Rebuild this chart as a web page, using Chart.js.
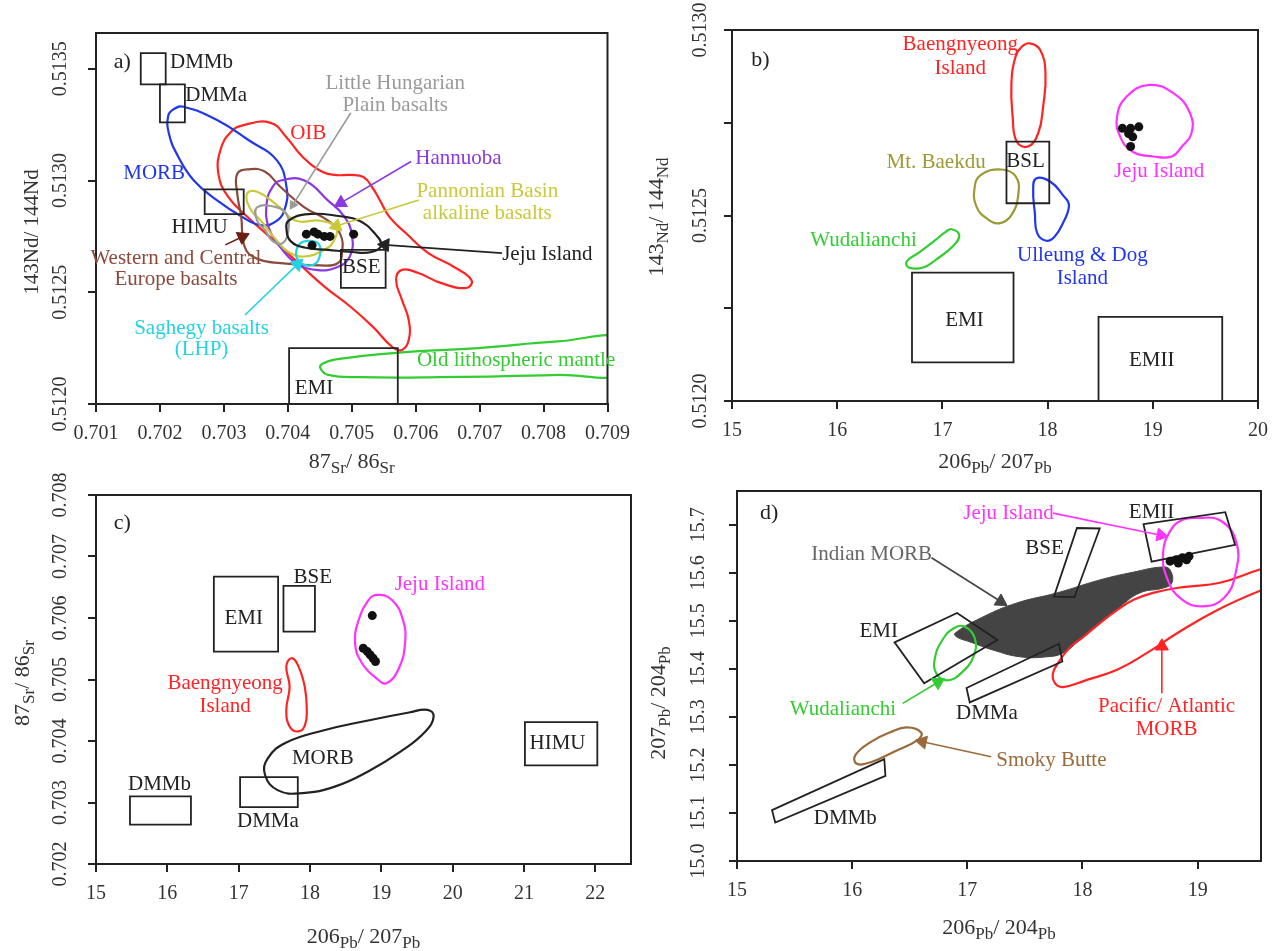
<!DOCTYPE html>
<html>
<head>
<meta charset="UTF-8">
<title>Sr-Nd-Pb isotope diagrams</title>
<script src="https://cdn.jsdelivr.net/npm/chart.js"></script>
<style>
  body { margin: 0; background: #fff; }
  canvas { position: absolute; }
</style>
</head>
<body>
<canvas id="cA" width="640" height="482" style="left:0;top:0"></canvas>
<canvas id="cB" width="647" height="482" style="left:640px;top:0"></canvas>
<canvas id="cC" width="640" height="481" style="left:0;top:470px"></canvas>
<canvas id="cD" width="647" height="481" style="left:640px;top:470px"></canvas>
<script>
// ---------- a) 87Sr/86Sr vs 143Nd/144Nd ----------
const aBoxDMMb = [0.70170, 0.51343, 0.70209, 0.51357];
const aBoxDMMa = [0.70200, 0.51326, 0.70239, 0.51343];
const aBoxHIMU = [0.70270, 0.51285, 0.70331, 0.51296];
const aBoxBSE  = [0.70483, 0.51252, 0.70553, 0.51269];
const aBoxEMI  = [0.70402, 0.51200, 0.70572, 0.51225];
const aOIB = [[0.703370,0.512837],[0.703068,0.512927],[0.702917,0.513025],[0.702947,0.513137],[0.703113,0.513218],[0.703325,0.513249],[0.703732,0.513258],[0.703974,0.513195],[0.704230,0.513106],[0.704487,0.513047],[0.704728,0.513025],[0.704985,0.513025],[0.705181,0.513016],[0.705317,0.512971],[0.705438,0.512913],[0.705589,0.512837],[0.705845,0.512765],[0.706192,0.512676],[0.706600,0.512613],[0.706872,0.512555],[0.706796,0.512519],[0.706389,0.512542],[0.706042,0.512586],[0.705785,0.512600],[0.705694,0.512555],[0.705785,0.512466],[0.705891,0.512376],[0.705891,0.512286],[0.705785,0.512242],[0.705634,0.512255],[0.705332,0.512345],[0.704985,0.512434],[0.704577,0.512524],[0.704230,0.512613],[0.703823,0.512721]];
const aMORB = [[0.70237,0.51333],[0.70290,0.51327],[0.70339,0.51318],[0.70383,0.51309],[0.70398,0.51297],[0.70396,0.51288],[0.70383,0.51282],[0.70358,0.51280],[0.70327,0.51284],[0.70290,0.51291],[0.70253,0.51300],[0.70228,0.51311],[0.70214,0.51321],[0.70213,0.51329],[0.70222,0.51332]];
const aHannuoba = [[0.70389,0.51300],[0.70426,0.51300],[0.70463,0.51291],[0.70488,0.51284],[0.70500,0.51276],[0.70497,0.51266],[0.70475,0.51261],[0.70444,0.51260],[0.70413,0.51263],[0.70389,0.51270],[0.70370,0.51279],[0.70367,0.51290],[0.70376,0.51297]];
const aWCEurope = [[0.70321,0.51303],[0.70339,0.51305],[0.70364,0.51304],[0.70389,0.51297],[0.70426,0.51288],[0.70463,0.51282],[0.70482,0.51276],[0.70485,0.51268],[0.70478,0.51263],[0.70451,0.51262],[0.70389,0.51263],[0.70352,0.51265],[0.70333,0.51270],[0.70327,0.51284],[0.70321,0.51294]];
const aPannonian = [[0.70336,0.51294],[0.70352,0.51295],[0.70383,0.51289],[0.70413,0.51282],[0.70451,0.51282],[0.70475,0.51279],[0.70472,0.51273],[0.70457,0.51269],[0.70426,0.51266],[0.70401,0.51268],[0.70383,0.51273],[0.70358,0.51282],[0.70342,0.51287]];
const aLHP = [[0.70352,0.51288],[0.70383,0.51288],[0.70398,0.51285],[0.70401,0.51278],[0.70392,0.51272],[0.70376,0.51273],[0.70364,0.51278],[0.70352,0.51282]];
const aJeju = [[0.70401,0.51282],[0.70432,0.51285],[0.70482,0.51284],[0.70512,0.51282],[0.70537,0.51276],[0.70546,0.51271],[0.70531,0.51268],[0.70500,0.51268],[0.70463,0.51269],[0.70426,0.51270],[0.70404,0.51273],[0.70398,0.51278]];
const aSaghegy = [[0.70432,0.51273],[0.70447,0.51272],[0.70451,0.51268],[0.70444,0.51263],[0.70429,0.51262],[0.70417,0.51264],[0.70413,0.51268],[0.70420,0.51272]];
const aOldMantle = [[0.70454,0.51218],[0.70475,0.51220],[0.70574,0.51223],[0.70698,0.51225],[0.70822,0.51228],[0.70930,0.51229],[0.70930,0.51214],[0.70822,0.51213],[0.70636,0.51212],[0.70512,0.51212],[0.70463,0.51213],[0.70451,0.51216]];
const aSamples = [[0.70429,0.51276],[0.70441,0.51277],[0.70447,0.51276],[0.70457,0.51275],[0.70466,0.51275],[0.70438,0.51271],[0.70503,0.51276]];

// ---------- b) 206Pb/207Pb vs 143Nd/144Nd ----------
const bBoxBSL  = [17.609, 0.512533, 18.016, 0.512699];
const bBoxEMI  = [16.711, 0.512104, 17.676, 0.512346];
const bBoxEMII = [18.484, 0.512000, 19.660, 0.512227];
const bBaengnyeong = [[17.832,0.512964],[17.930,0.512946],[17.980,0.512883],[17.957,0.512793],[17.910,0.512721],[17.813,0.512686],[17.707,0.512699],[17.668,0.512766],[17.656,0.512856],[17.695,0.512928],[17.754,0.512955]];
const bJeju = [[18.965,0.512852],[19.199,0.512829],[19.355,0.512775],[19.367,0.512721],[19.277,0.512686],[19.180,0.512659],[19.004,0.512659],[18.809,0.512672],[18.691,0.512712],[18.660,0.512766],[18.750,0.512820]];
const bBaekdu = [[17.363,0.512609],[17.559,0.512624],[17.695,0.512606],[17.723,0.512560],[17.656,0.512501],[17.539,0.512479],[17.422,0.512492],[17.324,0.512524],[17.305,0.512573]];
const bUlleung = [[17.891,0.512600],[18.027,0.512591],[18.145,0.512555],[18.203,0.512528],[18.145,0.512479],[18.066,0.512443],[17.988,0.512432],[17.902,0.512452],[17.879,0.512506],[17.863,0.512569]];
const bWudalianchi = [[17.090,0.512463],[17.160,0.512447],[17.109,0.512420],[16.934,0.512380],[16.816,0.512360],[16.680,0.512360],[16.660,0.512376],[16.777,0.512400],[16.934,0.512434],[17.031,0.512456]];
const bSamples = [[18.711,0.512735],[18.789,0.512735],[18.867,0.512739],[18.770,0.512721],[18.809,0.512712],[18.789,0.512686]];

// ---------- c) 206Pb/207Pb vs 87Sr/86Sr ----------
const cBoxEMI  = [16.652, 0.705454, 17.553, 0.706672];
const cBoxBSE  = [17.628, 0.705779, 18.069, 0.706521];
const cBoxHIMU = [21.013, 0.703603, 22.028, 0.704306];
const cBoxDMMb = [15.476, 0.702639, 16.331, 0.703099];
const cBoxDMMa = [17.020, 0.702926, 17.829, 0.703413];
const cJeju = [[18.930,0.706375],[19.148,0.706293],[19.303,0.705969],[19.332,0.705590],[19.246,0.705184],[19.073,0.704940],[18.930,0.705021],[18.729,0.705265],[18.632,0.705590],[18.689,0.705996],[18.804,0.706266]];
const cBaengnyeong = [[17.737,0.705346],[17.829,0.705238],[17.926,0.704886],[17.955,0.704507],[17.926,0.704247],[17.829,0.704155],[17.714,0.704236],[17.668,0.704507],[17.714,0.704886],[17.668,0.705211]];
const cMORB = [[19.647,0.704507],[19.733,0.704398],[19.618,0.704155],[19.274,0.703830],[18.815,0.703505],[18.356,0.703262],[17.897,0.703153],[17.553,0.703197],[17.369,0.703451],[17.410,0.703722],[17.668,0.703976],[18.184,0.704171],[18.815,0.704334],[19.389,0.704463]];
const cSamples = [[18.873,0.706039],[18.747,0.705508],[18.804,0.705454],[18.844,0.705400],[18.884,0.705346],[18.918,0.705292]];

// ---------- d) 206Pb/204Pb vs 207Pb/204Pb ----------
const dEMII = [[18.530,15.701],[19.240,15.726],[19.325,15.658],[18.600,15.623]];
const dBSE  = [[17.952,15.693],[18.150,15.692],[17.930,15.549],[17.752,15.550]];
const dEMI  = [[16.368,15.455],[16.911,15.516],[17.261,15.460],[16.625,15.370]];
const dDMMa = [[16.993,15.360],[17.796,15.452],[17.825,15.415],[17.021,15.330]];
const dDMMb = [[15.304,15.106],[16.279,15.212],[16.289,15.177],[15.332,15.080]];
const dIndianMORB = [[16.893,15.474],[17.136,15.508],[17.431,15.537],[17.779,15.558],[18.152,15.585],[18.439,15.601],[18.699,15.612],[18.760,15.606],[18.777,15.579],[18.699,15.568],[18.499,15.558],[18.326,15.529],[18.152,15.495],[17.978,15.460],[17.831,15.433],[17.692,15.425],[17.457,15.425],[17.223,15.439],[17.023,15.456],[16.910,15.466]];
const dPacificMORB = [[19.650,15.610],[19.559,15.608],[19.194,15.579],[18.873,15.570],[18.612,15.558],[18.439,15.543],[18.300,15.522],[18.152,15.495],[18.005,15.466],[17.892,15.445],[17.805,15.418],[17.744,15.391],[17.761,15.370],[17.831,15.362],[18.039,15.377],[18.300,15.398],[18.560,15.433],[18.821,15.474],[19.168,15.522],[19.559,15.564],[19.650,15.568]];
const dWudalianchi = [[16.975,15.488],[17.064,15.464],[17.054,15.426],[16.946,15.391],[16.825,15.376],[16.732,15.390],[16.718,15.422],[16.789,15.462],[16.886,15.485]];
const dSmokyButte = [[16.475,15.278],[16.600,15.267],[16.564,15.251],[16.368,15.228],[16.154,15.205],[16.036,15.203],[16.029,15.221],[16.171,15.249],[16.332,15.268]];
const dJeju = [[19.000,15.714],[19.200,15.708],[19.335,15.664],[19.330,15.600],[19.230,15.548],[19.040,15.530],[18.860,15.545],[18.740,15.585],[18.700,15.641],[18.765,15.688],[18.870,15.710]];
const dSamples = [[18.761,15.624],[18.814,15.627],[18.868,15.631],[18.925,15.634],[18.832,15.620],[18.904,15.627]];

const FONT = '"Liberation Serif", "DejaVu Serif", serif';
Chart.defaults.font.family = FONT;
Chart.defaults.color = '#333';

const RED = '#ff2424', BLUE = '#2236ea', PURPLE = '#8a38e0', YELLOW = '#c9c93a', BROWN = '#8b4a3c',
      CYAN = '#26d2e2', GRAY = '#9a9a9a', GREEN = '#33cc33', MAGENTA = '#ff33ff', OLIVE = '#9c9a34',
      TAN = '#9b6a3a', INK = '#222';

const xy = a => a.map(p => ({ x: p[0], y: p[1] }));

function curve(pts, color) {
  return { data: xy(pts), showLine: true, closed: true, borderColor: color, borderWidth: 2.2,
           pointRadius: 0, tension: 0.45, fill: false };
}
function openCurve(pts, color) {
  return { data: xy(pts), showLine: true, borderColor: color, borderWidth: 2.2,
           pointRadius: 0, tension: 0.45, fill: false };
}
function box(b) {
  return quad([[b[0], b[1]], [b[2], b[1]], [b[2], b[3]], [b[0], b[3]]]);
}
function quad(pts) {
  return { data: xy(pts), showLine: true, closed: true, borderColor: INK, borderWidth: 1.8,
           pointRadius: 0, tension: 0, fill: false };
}
function dots(pts) {
  return { data: xy(pts), showLine: false, pointRadius: 4.5, pointBackgroundColor: '#111',
           pointBorderColor: '#111', pointBorderWidth: 0 };
}
function arrow(a, b, color, head) {
  return {
    data: xy([a, b]), showLine: true, borderColor: color, borderWidth: 1.6, tension: 0, fill: false,
    pointStyle: 'triangle', pointRadius: [0, head || 7.5],
    pointBackgroundColor: color, pointBorderColor: color, pointBorderWidth: 1,
    pointRotation: c => {
      const s = c.chart.scales;
      const dx = s.x.getPixelForValue(b[0]) - s.x.getPixelForValue(a[0]);
      const dy = s.y.getPixelForValue(b[1]) - s.y.getPixelForValue(a[1]);
      return Math.atan2(dx, -dy) * 180 / Math.PI;
    }
  };
}

function axis(min, max, step, dec, size, showLabels) {
  return {
    type: 'linear', min: min, max: max,
    ticks: { display: showLabels, font: { size: 20 }, color: '#333', padding: 10,
             maxRotation: 0, autoSkip: false, callback: v => v.toFixed(dec) },
    afterBuildTicks: s => {
      const out = [];
      for (let k = Math.ceil(min / step - 1e-6); k <= Math.floor(max / step + 1e-6); k++) {
        out.push({ value: +(k * step).toFixed(8) });
      }
      s.ticks = out;
    },
    afterFit: s => { if (s.isHorizontal()) s.height = size; else s.width = size; },
    grid: { drawOnChartArea: false, tickLength: 8, color: INK, lineWidth: 2 },
    border: { color: INK, width: 2 }
  };
}

// per-panel annotation: texts, axis titles, y tick labels (rotated)
const DECOR = {
  cA: {
    yDec: 4, yLabelStep: 0.0005, yTickX: 61,
    xTitle: '87|Sr|/ 86|Sr', xTitleY: 461, yTitle: '143Nd/ 144Nd', yTitleX: 31, yTitleY: 232,
    labels: [
      ['a)', 0.70141, 0.51353, INK, 22], ['DMMb', 0.70265, 0.51353], ['DMMa', 0.70288, 0.51338],
      ['HIMU', 0.70262, 0.51279], ['BSE', 0.70515, 0.51261], ['EMI', 0.70441, 0.51207],
      ['OIB', 0.70432, 0.51321, RED], ['MORB', 0.70191, 0.51303, BLUE],
      ['Little Hungarian', 0.70568, 0.513436, GRAY], ['Plain basalts', 0.70568, 0.513334, GRAY],
      ['Hannuoba', 0.70667, 0.51310, PURPLE],
      ['Pannonian Basin', 0.70712, 0.512951, YELLOW], ['alkaline basalts', 0.70712, 0.512854, YELLOW],
      ['Jeju Island', 0.70806, 0.512667],
      ['Western and Central', 0.70225, 0.512652, BROWN], ['Europe basalts', 0.70225, 0.512555, BROWN],
      ['Saghegy basalts', 0.70265, 0.512339, CYAN], ['(LHP)', 0.70265, 0.512242, CYAN],
      ['Old lithospheric mantle', 0.70757, 0.512194, GREEN]
    ]
  },
  cB: {
    yDec: 4, yLabelStep: 0.0005, yTickX: 61,
    xTitle: '206|Pb|/ 207|Pb', xTitleY: 461, yTitle: '143|Nd|/ 144|Nd', yTitleX: 16, yTitleY: 217,
    labels: [
      ['b)', 15.27, 0.512919, INK, 22],
      ['Baengnyeong', 17.17, 0.512960, RED], ['Island', 17.17, 0.512897, RED],
      ['BSL', 17.79, 0.512645], ['Mt. Baekdu', 16.94, 0.512642, OLIVE],
      ['Jeju Island', 19.06, 0.512618, MAGENTA], ['Wudalianchi', 16.25, 0.512432, GREEN],
      ['Ulleung & Dog', 18.33, 0.512392, BLUE], ['Island', 18.33, 0.512331, BLUE],
      ['EMI', 17.21, 0.512218], ['EMII', 18.99, 0.512108]
    ]
  },
  cC: {
    yDec: 3, yLabelStep: 0.001, yTickX: 61,
    xTitle: '206|Pb|/ 207|Pb', xTitleY: 466, yTitle: '87|Sr|/ 86|Sr', yTitleX: 22, yTitleY: 213,
    labels: [
      ['c)', 15.37, 0.707539, INK, 22], ['EMI', 17.07, 0.705996], ['BSE', 18.04, 0.706660],
      ['Jeju Island', 19.82, 0.706537, MAGENTA],
      ['Baengnyeong', 16.81, 0.704940, RED], ['Island', 16.81, 0.704561, RED],
      ['MORB', 18.18, 0.703722], ['HIMU', 21.47, 0.703965], ['DMMb', 15.89, 0.703289],
      ['DMMa', 17.41, 0.702693]
    ]
  },
  cD: {
    yDec: 1, yLabelStep: 0.1, yTickX: 59,
    xTitle: '206|Pb|/ 204|Pb', xTitleY: 457, yTitle: '207|Pb|/ 204|Pb', yTitleX: 18, yTitleY: 233,
    labels: [
      ['d)', 15.28, 15.724, INK, 22], ['Jeju Island', 17.357, 15.724, MAGENTA], ['EMII', 18.60, 15.726],
      ['BSE', 17.67, 15.651], ['Indian MORB', 16.17, 15.6375, '#666'], ['EMI', 16.23, 15.478],
      ['Wudalianchi', 15.92, 15.315, GREEN], ['DMMa', 17.17, 15.308],
      ['Pacific/ Atlantic', 18.73, 15.322, RED], ['MORB', 18.73, 15.273, RED],
      ['Smoky Butte', 17.73, 15.210, TAN], ['DMMb', 15.94, 15.089]
    ]
  }
};

// text with subscript parts: 'normal|sub|normal|sub'
function drawRich(ctx, spec, cx, cy, rotate) {
  const parts = spec.split('|');
  const fontOf = i => (i % 2 ? '17px ' : (parts.length > 1 ? '22px ' : '21px ')) + FONT;
  let w = 0;
  parts.forEach((p, i) => { ctx.font = fontOf(i); w += ctx.measureText(p).width; });
  ctx.save();
  ctx.translate(cx, cy);
  if (rotate) ctx.rotate(-Math.PI / 2);
  ctx.textAlign = 'left';
  ctx.textBaseline = 'alphabetic';
  ctx.fillStyle = '#333';
  let x = -w / 2;
  parts.forEach((p, i) => {
    ctx.font = fontOf(i);
    ctx.fillText(p, x, i % 2 ? 12 : 7);
    x += ctx.measureText(p).width;
  });
  ctx.restore();
}

const decor = {
  id: 'decor',
  afterDatasetsUpdate(chart) {
    chart.data.datasets.forEach((ds, i) => {
      const line = chart.getDatasetMeta(i).dataset;
      if (!ds.closed || !line) return;
      line._loop = true;
      line._fullLoop = true;
      line._segments = undefined;
      line._path = undefined;
      line._pointsUpdated = false;
    });
  },
  beforeDatasetsDraw(chart) {
    chart.data.datasets.forEach((ds, i) => {
      const line = chart.getDatasetMeta(i).dataset;
      if (line && line.updateControlPoints) line.updateControlPoints(chart.chartArea, 'x');
    });
  },
  afterDraw(chart) {
    const d = DECOR[chart.canvas.id];
    const ctx = chart.ctx, a = chart.chartArea, sx = chart.scales.x, sy = chart.scales.y;
    ctx.save();
    ctx.strokeStyle = INK;
    ctx.lineWidth = 2;
    ctx.strokeRect(a.left, a.top, a.right - a.left, a.bottom - a.top);

    ctx.font = '20px ' + FONT;
    ctx.fillStyle = '#333';
    ctx.textAlign = 'center';
    ctx.textBaseline = 'middle';
    sy.ticks.forEach(t => {
      const k = t.value / d.yLabelStep;
      if (Math.abs(k - Math.round(k)) > 1e-6) return;
      ctx.save();
      ctx.translate(d.yTickX, sy.getPixelForValue(t.value));
      ctx.rotate(-Math.PI / 2);
      ctx.fillText(t.value.toFixed(d.yDec), 0, 0);
      ctx.restore();
    });

    d.labels.forEach(l => {
      ctx.font = (l[4] || 21) + 'px ' + FONT;
      ctx.fillStyle = l[3] || INK;
      ctx.fillText(l[0], sx.getPixelForValue(l[1]), sy.getPixelForValue(l[2]));
    });

    drawRich(ctx, d.xTitle, (a.left + a.right) / 2, d.xTitleY, false);
    drawRich(ctx, d.yTitle, d.yTitleX, d.yTitleY, true);
    ctx.restore();
  }
};

function makeChart(id, datasets, xAxis, yAxis, padTop, padRight) {
  return new Chart(document.getElementById(id), {
    type: 'scatter',
    data: { datasets: datasets },
    options: {
      responsive: false, animation: false, events: [],
      layout: { padding: { top: padTop, right: padRight, left: 0, bottom: 0 } },
      scales: { x: xAxis, y: yAxis },
      plugins: { legend: { display: false }, tooltip: { enabled: false } }
    },
    plugins: [decor]
  });
}

makeChart('cA', [
  dots(aSamples),
  arrow([0.705927, 0.513085], [0.704830, 0.512900], PURPLE),
  arrow([0.706051, 0.512913], [0.704760, 0.512796], YELLOW),
  arrow([0.704985, 0.513303], [0.704079, 0.512891], GRAY, 5),
  arrow([0.707349, 0.512675], [0.705520, 0.512712], INK),
  arrow([0.703022, 0.512712], [0.703290, 0.512748], '#6b1f10'),
  arrow([0.703331, 0.512398], [0.704150, 0.512625], CYAN),
  box(aBoxDMMb), box(aBoxDMMa), box(aBoxHIMU), box(aBoxBSE), box(aBoxEMI),
  curve(aJeju, INK), curve(aSaghegy, CYAN), curve(aLHP, GRAY), curve(aPannonian, YELLOW),
  curve(aHannuoba, PURPLE), curve(aWCEurope, BROWN), curve(aMORB, BLUE), curve(aOIB, RED),
  curve(aOldMantle, GREEN)
], axis(0.701, 0.709, 0.001, 3, 78, true), axis(0.512, 0.51366, 0.0005, 4, 96, false), 33, 14);

makeChart('cB', [
  dots(bSamples),
  box(bBoxBSL), box(bBoxEMI), box(bBoxEMII),
  curve(bBaengnyeong, RED), curve(bJeju, MAGENTA), curve(bBaekdu, OLIVE),
  curve(bUlleung, BLUE), curve(bWudalianchi, GREEN)
], axis(15, 20, 1, 0, 81, true), axis(0.512, 0.513, 0.00025, 4, 92, false), 30, 29);

makeChart('cC', [
  dots(cSamples),
  box(cBoxEMI), box(cBoxBSE), box(cBoxHIMU), box(cBoxDMMb), box(cBoxDMMa),
  curve(cJeju, MAGENTA), curve(cBaengnyeong, RED), curve(cMORB, INK)
], axis(15, 22.5, 1, 0, 87, true), axis(0.702, 0.708, 0.001, 3, 96, false), 25, 9);

const indian = curve(dIndianMORB, '#444');
indian.fill = 'shape';
indian.backgroundColor = '#444';
indian.borderWidth = 1;
makeChart('cD', [
  dots(dSamples),
  arrow([16.689, 15.631], [17.290, 15.540], '#444'),
  arrow([17.743, 15.724], [18.680, 15.678], MAGENTA),
  arrow([16.439, 15.328], [16.745, 15.372], GREEN),
  arrow([17.207, 15.217], [16.610, 15.248], TAN),
  arrow([18.689, 15.349], [18.689, 15.447], RED),
  quad(dEMII), quad(dBSE), quad(dEMI), quad(dDMMa), quad(dDMMb),
  curve(dJeju, MAGENTA), curve(dWudalianchi, GREEN), curve(dSmokyButte, TAN),
  openCurve(dPacificMORB, RED), indian
], axis(15, 19.55, 1, 0, 90, true), axis(15.0, 15.77, 0.1, 1, 97, false), 21, 26);
</script>
</body>
</html>
